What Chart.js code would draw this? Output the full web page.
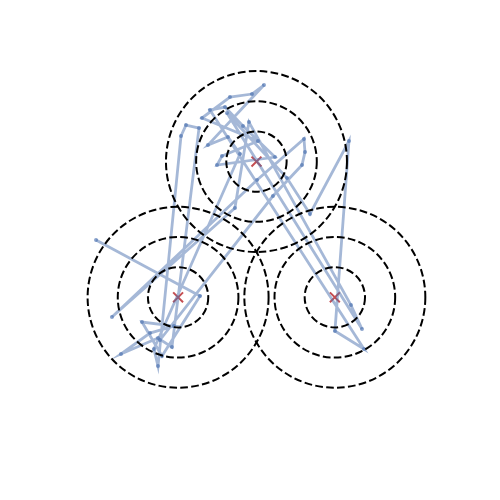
<!DOCTYPE html>
<html>
<head>
<meta charset="utf-8">
<script src="https://cdn.jsdelivr.net/npm/chart.js@4"></script>
<style>
    body { margin: 0; background: #fff; }
    canvas { display: block; }
</style>
</head>
<body>
<canvas id="chart" width="500" height="500"></canvas>
<script>
// attractor centres and ring radii
const centerX = [0, -0.866, 0.866];
const centerY = [1, -0.5, -0.5];
const radii = [1 / 3, 2 / 3, 1];

// trajectory, in order
const pathX = [-1.773, -0.624, -1.044, -1.265, -0.912, -1.177, -1.497, -1.088, -0.934, -0.635,
    -0.779, -0.834, -1.088, -1.133, -0.182, -0.315, -0.536, 0.083, -0.050, -0.293,
    -0.602, 0.017, -0.381, -0.436, 0.204, -0.149, -0.348, -0.514, 1.188, 0.867,
    1.022, 0.591, 0.337, -0.326, 1.166, 1.044, -0.083, -0.238, -1.597, 0.006,
    0.525, 0.536, 0.503, 0.182, -1.066];
const pathY = [0.133, -0.486, -1.149, -0.773, -0.818, -0.895, -1.127, -0.950, -1.050, 1.370,
    1.403, 1.282, -1.260, -1.072, 1.083, 1.271, 1.182, 1.845, 1.746, 1.713,
    1.481, 1.227, 1.061, 0.961, 1.050, 1.392, 1.602, 1.569, -1.072, -0.873,
    1.227, 0.420, 0.818, 1.536, -0.851, -0.586, 1.436, 0.486, -0.718, 0.796,
    1.249, 1.105, 0.961, 0.619, -0.972];

const ringPlugin = {
    id: 'rings',
    afterDatasetsDraw(chart) {
        const ctx = chart.ctx;
        const xs = chart.scales.x;
        const ys = chart.scales.y;
        ctx.save();
        ctx.strokeStyle = '#000';
        ctx.lineWidth = 2;
        ctx.setLineDash([7.7, 3.3]);
        centerX.forEach((cx, i) => {
            const px = xs.getPixelForValue(cx);
            const py = ys.getPixelForValue(centerY[i]);
            radii.forEach(r => {
                const pr = xs.getPixelForValue(cx + r) - px;
                ctx.beginPath();
                ctx.arc(px, py, pr, 0, Math.PI * 2);
                ctx.stroke();
            });
        });
        ctx.restore();
    }
};

new Chart(document.getElementById('chart'), {
    type: 'scatter',
    data: {
        datasets: [{
            data: pathX.map((x, i) => ({ x: x, y: pathY[i] })),
            showLine: true,
            borderColor: 'rgba(76, 114, 176, 0.5)',
            borderWidth: 2.8,
            tension: 0,
            pointRadius: 2,
            pointBorderWidth: 0,
            pointBackgroundColor: 'rgba(76, 114, 176, 0.65)'
        }, {
            data: centerX.map((x, i) => ({ x: x, y: centerY[i] })),
            pointStyle: 'crossRot',
            pointRadius: 7,
            borderWidth: 2,
            borderColor: '#c44e52'
        }]
    },
    options: {
        responsive: false,
        animation: false,
        layout: { padding: 0, autoPadding: false },
        plugins: {
            legend: { display: false },
            tooltip: { enabled: false }
        },
        scales: {
            x: { display: false, min: -2.834, max: 2.691 },
            y: { display: false, min: -2.740, max: 2.785 }
        }
    },
    plugins: [ringPlugin]
});
</script>
</body>
</html>
